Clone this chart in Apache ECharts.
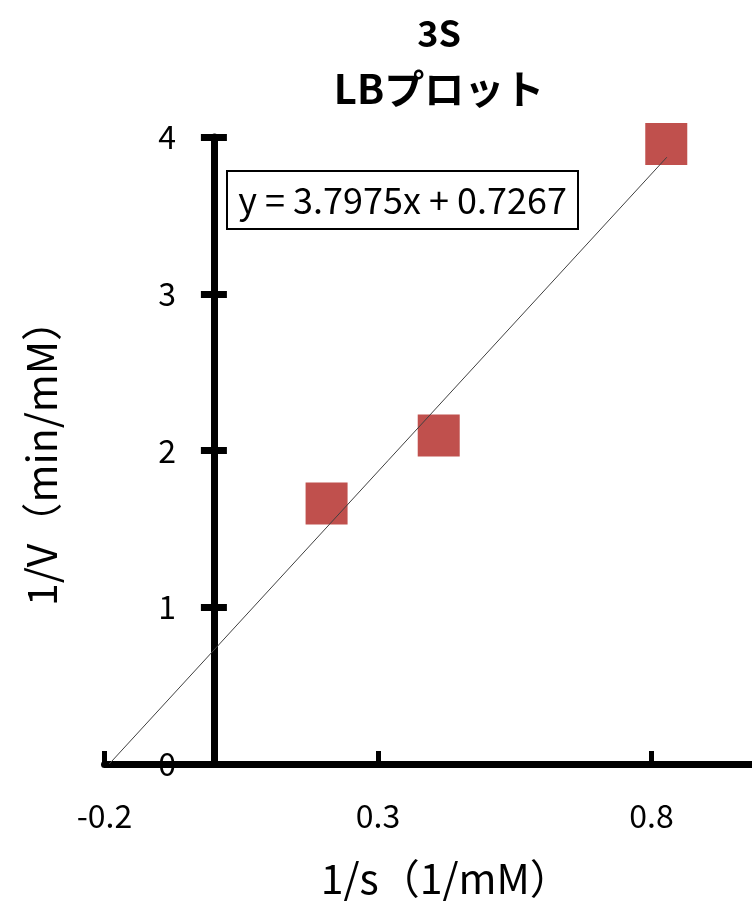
<!DOCTYPE html>
<html>
<head>
<meta charset="utf-8">
<script src="https://cdn.jsdelivr.net/npm/echarts@6/dist/echarts.min.js"></script>
<style>
html,body{margin:0;padding:0;background:#fff;}
#chart{width:752px;height:901px;}
</style>
</head>
<body>
<div id="chart"></div>
<script>
// Data
const sValues = [0.206, 0.411, 0.827];        // 1/s (1/mM)
const vValues = [1.662, 2.096, 3.955];        // 1/V (min/mM)
const trendX = [-0.1914, 0.828];              // Excel linear trendline endpoints
const trendY = [0, 3.871];
const equationText = 'y = 3.7975x + 0.7267';
const titleLines = ['3S', 'LBプロット'];
const xName = '1/s（1/mM）';
const yName = '1/V（min/mM）';
const xMin = -0.2, xMax = 1.3, xStep = 0.5;
const yMin = 0, yMax = 4, yStep = 1;

const FONT = '"Noto Sans CJK JP", "Noto Sans", sans-serif';
const W = 752;
const gridLeft = 104.5, gridRight = -173;
const gridWidth = W - gridLeft - gridRight;
// place the y axis where x = 0 (labels follow the line, as in the original)
const yAxisOffset = -((0 - xMin) / (xMax - xMin)) * gridWidth;

const chart = echarts.init(document.getElementById('chart'), null, {renderer: 'canvas'});

const points = sValues.map((s, i) => [s, vValues[i]]);
const trend = trendX.map((x, i) => [x, trendY[i]]);

const option = {
  backgroundColor: '#fff',
  animation: false,
  title: {
    text: '{a|' + titleLines[0] + '}\n{b|' + titleLines[1] + '}',
    left: 434,
    top: 1,
    textAlign: 'center',
    textStyle: {
      fontFamily: FONT, fontWeight: 'bold', color: '#000',
      rich: {
        a: {fontFamily: FONT, fontWeight: 'bold', fontSize: 36, lineHeight: 55, color: '#000', align: 'center'},
        b: {fontFamily: FONT, fontWeight: 'bold', fontSize: 40, lineHeight: 55, color: '#000', align: 'center'}
      }
    }
  },
  grid: {left: gridLeft, right: gridRight, top: 137, bottom: 137, containLabel: false, outerBoundsMode: 'none'},
  xAxis: [{
    type: 'value', min: xMin, max: xMax, interval: xStep,
    axisLine: {show: true, onZero: false, lineStyle: {color: '#000', width: 7}},
    axisTick: {show: true, inside: true, length: 13, lineStyle: {color: '#000', width: 5}},
    axisLabel: {show: true, margin: 36, fontFamily: FONT, fontSize: 32, color: '#000'},
    splitLine: {show: false},
    name: xName, nameLocation: 'middle', nameGap: 94,
    nameTextStyle: {fontFamily: FONT, fontSize: 41, color: '#000', align: 'center', padding: [0, 138, 0, 0]}
  }],
  yAxis: [{
    type: 'value', min: yMin, max: yMax, interval: yStep, position: 'left', offset: yAxisOffset,
    axisLine: {show: true, onZero: false, lineStyle: {color: '#000', width: 7}},
    axisTick: {show: true, inside: true, length: 13, lineStyle: {color: '#000', width: 7}},
    axisLabel: {show: true, margin: 38, fontFamily: FONT, fontSize: 32, color: '#000'},
    splitLine: {show: false},
    name: yName, nameLocation: 'middle', nameGap: 152,
    nameTextStyle: {fontFamily: FONT, fontSize: 41, color: '#000', padding: [0, 5, 0, 0]}
  }, {
    type: 'value', min: yMin, max: yMax, interval: yStep, position: 'left', offset: yAxisOffset,
    axisLine: {show: false, onZero: false},
    axisTick: {show: true, inside: false, length: 13, lineStyle: {color: '#000', width: 7}},
    axisLabel: {show: false},
    splitLine: {show: false}
  }],
  series: [{
    type: 'scatter',
    data: points,
    symbol: 'rect',
    symbolSize: 42,
    itemStyle: {color: '#c0504d', opacity: 1},
    z: 3
  }, {
    type: 'line',
    data: trend,
    showSymbol: false,
    symbol: 'none',
    lineStyle: {color: '#404040', width: 1},
    z: 4,
    silent: true
  }],
  graphic: [{
    type: 'group',
    left: 226, top: 170,
    children: [{
      type: 'rect',
      shape: {x: 0, y: 0, width: 351, height: 58},
      style: {fill: '#fff', stroke: '#000', lineWidth: 2}
    }, {
      type: 'text',
      x: 175.5, y: 29,
      style: {text: equationText, fontFamily: FONT, fontSize: 36, fill: '#000', align: 'center', verticalAlign: 'middle'}
    }]
  }]
};
chart.setOption(option);
</script>
</body>
</html>
